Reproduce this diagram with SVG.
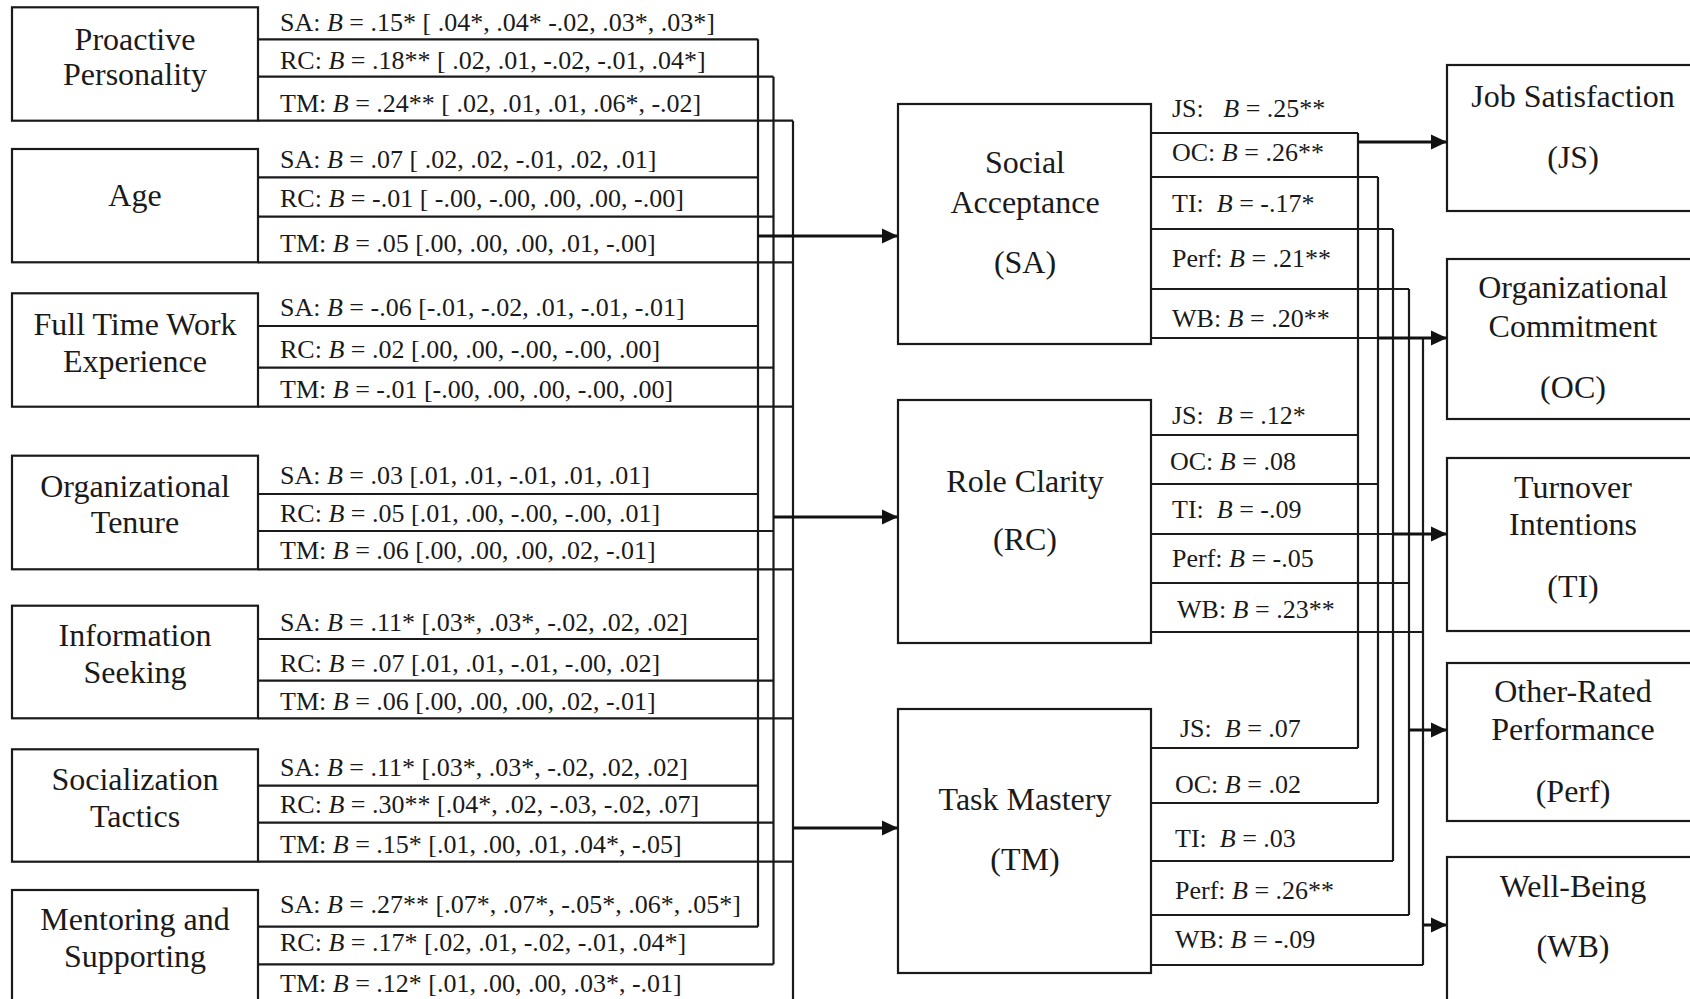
<svg xmlns="http://www.w3.org/2000/svg" width="1690" height="999" viewBox="0 0 1690 999">
<style>
.bx{fill:#fff;stroke:#1a1a1a;stroke-width:2.2}
.ln{fill:none;stroke:#1a1a1a;stroke-width:2.2}
.ar{fill:none;stroke:#111;stroke-width:3;marker-end:url(#ah)}
.lb{font-family:"Liberation Serif","Times New Roman",serif;font-size:32px;fill:#1a1a1a;text-anchor:middle}
.r{font-family:"Liberation Serif","Times New Roman",serif;font-size:26px;fill:#1a1a1a}
.i{font-style:italic}
</style>
<defs>
<marker id="ah" markerUnits="userSpaceOnUse" markerWidth="16" markerHeight="16" refX="16" refY="8" orient="auto"><path d="M0,0.5 L16,8 L0,15.5 z" fill="#111"/></marker>
</defs>
<rect width="1690" height="999" fill="#fff"/>

<g id="connectors">
<path class="ln" d="M258,39.3H758M258,76.7H773.5M258,120.7H793"/>
<path class="ln" d="M258,177.3H758M258,216.7H773.5M258,262.3H793"/>
<path class="ln" d="M258,326H758M258,367.7H773.5M258,406.7H793"/>
<path class="ln" d="M258,494H758M258,531H773.5M258,569.3H793"/>
<path class="ln" d="M258,639H758M258,680.7H773.5M258,718.3H793"/>
<path class="ln" d="M258,785.7H758M258,822.7H773.5M258,861.7H793"/>
<path class="ln" d="M258,926.7H758M258,964.3H773.5"/>
<path class="ln" d="M758,39.3V926.7M773.5,76.7V964.3M793,120.7V1005"/>
<line class="ar" x1="758" y1="236" x2="898" y2="236"/>
<line class="ar" x1="773.5" y1="517" x2="898" y2="517"/>
<line class="ar" x1="793" y1="828" x2="898" y2="828"/>
<path class="ln" d="M1151,133H1358M1151,177H1378M1151,229H1393M1151,289H1409M1151,338H1423"/>
<path class="ln" d="M1151,435H1358M1151,484H1378M1151,534H1393M1151,583H1409M1151,632H1423"/>
<path class="ln" d="M1151,748H1358M1151,803H1378M1151,861H1393M1151,915H1409M1151,965H1423"/>
<path class="ln" d="M1358,133V748M1378,177V803M1393,229V861M1409,289V915M1423,338V965"/>
<line class="ar" x1="1358" y1="142" x2="1447" y2="142"/>
<line class="ar" x1="1378" y1="338" x2="1447" y2="338"/>
<line class="ar" x1="1393" y1="534" x2="1447" y2="534"/>
<line class="ar" x1="1409" y1="730" x2="1447" y2="730"/>
<line class="ar" x1="1423" y1="925" x2="1447" y2="925"/>
</g>

<g id="pp">
<rect class="bx" x="12" y="7.3" width="246" height="113.4"/>
<text class="lb" x="135" y="50">Proactive</text>
<text class="lb" x="135" y="85">Personality</text>
<text class="r" x="280" y="31">SA: <tspan class="i">B</tspan> = .15* [ .04*, .04* -.02, .03*, .03*]</text>
<text class="r" x="280" y="68.5">RC: <tspan class="i">B</tspan> = .18** [ .02, .01, -.02, -.01, .04*]</text>
<text class="r" x="280" y="112">TM: <tspan class="i">B</tspan> = .24** [ .02, .01, .01, .06*, -.02]</text>
</g>

<g id="age">
<rect class="bx" x="12" y="149" width="246" height="113.3"/>
<text class="lb" x="135" y="206">Age</text>
<text class="r" x="280" y="167.5">SA: <tspan class="i">B</tspan> = .07 [ .02, .02, -.01, .02, .01]</text>
<text class="r" x="280" y="207">RC: <tspan class="i">B</tspan> = -.01 [ -.00, -.00, .00, .00, -.00]</text>
<text class="r" x="280" y="252">TM: <tspan class="i">B</tspan> = .05 [.00, .00, .00, .01, -.00]</text>
</g>

<g id="ftwe">
<rect class="bx" x="12" y="293.3" width="246" height="113.4"/>
<text class="lb" x="135" y="335">Full Time Work</text>
<text class="lb" x="135" y="372">Experience</text>
<text class="r" x="280" y="315.5">SA: <tspan class="i">B</tspan> = -.06 [-.01, -.02, .01, -.01, -.01]</text>
<text class="r" x="280" y="357.5">RC: <tspan class="i">B</tspan> = .02 [.00, .00, -.00, -.00, .00]</text>
<text class="r" x="280" y="398">TM: <tspan class="i">B</tspan> = -.01 [-.00, .00, .00, -.00, .00]</text>
</g>

<g id="ot">
<rect class="bx" x="12" y="455.7" width="246" height="113.6"/>
<text class="lb" x="135" y="497">Organizational</text>
<text class="lb" x="135" y="533">Tenure</text>
<text class="r" x="280" y="484">SA: <tspan class="i">B</tspan> = .03 [.01, .01, -.01, .01, .01]</text>
<text class="r" x="280" y="521.5">RC: <tspan class="i">B</tspan> = .05 [.01, .00, -.00, -.00, .01]</text>
<text class="r" x="280" y="559">TM: <tspan class="i">B</tspan> = .06 [.00, .00, .00, .02, -.01]</text>
</g>

<g id="is">
<rect class="bx" x="12" y="605.7" width="246" height="112.6"/>
<text class="lb" x="135" y="646">Information</text>
<text class="lb" x="135" y="683">Seeking</text>
<text class="r" x="280" y="631">SA: <tspan class="i">B</tspan> = .11* [.03*, .03*, -.02, .02, .02]</text>
<text class="r" x="280" y="671.5">RC: <tspan class="i">B</tspan> = .07 [.01, .01, -.01, -.00, .02]</text>
<text class="r" x="280" y="710">TM: <tspan class="i">B</tspan> = .06 [.00, .00, .00, .02, -.01]</text>
</g>

<g id="st">
<rect class="bx" x="12" y="749.3" width="246" height="112.4"/>
<text class="lb" x="135" y="790">Socialization</text>
<text class="lb" x="135" y="827">Tactics</text>
<text class="r" x="280" y="775.5">SA: <tspan class="i">B</tspan> = .11* [.03*, .03*, -.02, .02, .02]</text>
<text class="r" x="280" y="812.5">RC: <tspan class="i">B</tspan> = .30** [.04*, .02, -.03, -.02, .07]</text>
<text class="r" x="280" y="853">TM: <tspan class="i">B</tspan> = .15* [.01, .00, .01, .04*, -.05]</text>
</g>

<g id="ms">
<rect class="bx" x="12" y="890" width="246" height="130"/>
<text class="lb" x="135" y="930">Mentoring and</text>
<text class="lb" x="135" y="967">Supporting</text>
<text class="r" x="280" y="912.5">SA: <tspan class="i">B</tspan> = .27** [.07*, .07*, -.05*, .06*, .05*]</text>
<text class="r" x="280" y="950.5">RC: <tspan class="i">B</tspan> = .17* [.02, .01, -.02, -.01, .04*]</text>
<text class="r" x="280" y="991.5">TM: <tspan class="i">B</tspan> = .12* [.01, .00, .00, .03*, -.01]</text>
</g>

<g id="sa">
<rect class="bx" x="898" y="104" width="253" height="240"/>
<text class="lb" x="1025" y="173">Social</text>
<text class="lb" x="1025" y="213">Acceptance</text>
<text class="lb" x="1025" y="273">(SA)</text>
<text class="r" x="1172" y="117" xml:space="preserve">JS:   <tspan class="i">B</tspan> = .25**</text>
<text class="r" x="1172" y="161">OC: <tspan class="i">B</tspan> = .26**</text>
<text class="r" x="1172" y="212" xml:space="preserve">TI:  <tspan class="i">B</tspan> = -.17*</text>
<text class="r" x="1172" y="267">Perf: <tspan class="i">B</tspan> = .21**</text>
<text class="r" x="1172" y="327">WB: <tspan class="i">B</tspan> = .20**</text>
</g>

<g id="rc">
<rect class="bx" x="898" y="400" width="253" height="243"/>
<text class="lb" x="1025" y="492">Role Clarity</text>
<text class="lb" x="1025" y="550">(RC)</text>
<text class="r" x="1172" y="424" xml:space="preserve">JS:  <tspan class="i">B</tspan> = .12*</text>
<text class="r" x="1170" y="470">OC: <tspan class="i">B</tspan> = .08</text>
<text class="r" x="1172" y="518" xml:space="preserve">TI:  <tspan class="i">B</tspan> = -.09</text>
<text class="r" x="1172" y="567">Perf: <tspan class="i">B</tspan> = -.05</text>
<text class="r" x="1177" y="618">WB: <tspan class="i">B</tspan> = .23**</text>
</g>

<g id="tm">
<rect class="bx" x="898" y="709" width="253" height="264"/>
<text class="lb" x="1025" y="810">Task Mastery</text>
<text class="lb" x="1025" y="870">(TM)</text>
<text class="r" x="1180" y="737" xml:space="preserve">JS:  <tspan class="i">B</tspan> = .07</text>
<text class="r" x="1175" y="793">OC: <tspan class="i">B</tspan> = .02</text>
<text class="r" x="1175" y="847" xml:space="preserve">TI:  <tspan class="i">B</tspan> = .03</text>
<text class="r" x="1175" y="899">Perf: <tspan class="i">B</tspan> = .26**</text>
<text class="r" x="1175" y="948">WB: <tspan class="i">B</tspan> = -.09</text>
</g>

<g id="js">
<rect class="bx" x="1447" y="65" width="260" height="146"/>
<text class="lb" x="1573" y="107">Job Satisfaction</text>
<text class="lb" x="1573" y="168">(JS)</text>
</g>

<g id="oc">
<rect class="bx" x="1447" y="259" width="260" height="160"/>
<text class="lb" x="1573" y="298">Organizational</text>
<text class="lb" x="1573" y="337">Commitment</text>
<text class="lb" x="1573" y="398">(OC)</text>
</g>

<g id="ti">
<rect class="bx" x="1447" y="458" width="260" height="173"/>
<text class="lb" x="1573" y="498">Turnover</text>
<text class="lb" x="1573" y="535">Intentions</text>
<text class="lb" x="1573" y="597">(TI)</text>
</g>

<g id="perf">
<rect class="bx" x="1447" y="663" width="260" height="158"/>
<text class="lb" x="1573" y="702">Other-Rated</text>
<text class="lb" x="1573" y="740">Performance</text>
<text class="lb" x="1573" y="802">(Perf)</text>
</g>

<g id="wb">
<rect class="bx" x="1447" y="857" width="260" height="160"/>
<text class="lb" x="1573" y="897">Well-Being</text>
<text class="lb" x="1573" y="957">(WB)</text>
</g>
</svg>
